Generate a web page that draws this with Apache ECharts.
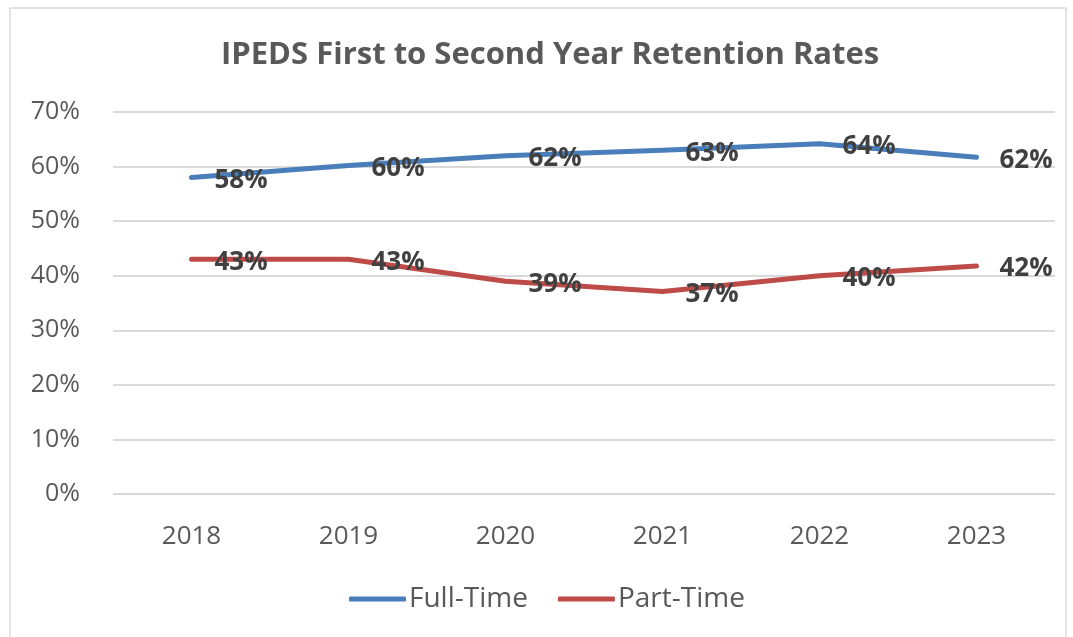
<!DOCTYPE html>
<html>
<head>
<meta charset="utf-8">
<script src="https://cdn.jsdelivr.net/npm/echarts@6/dist/echarts.min.js"></script>
<style>
  html, body { margin: 0; padding: 0; background: #fff; }
  #chart { width: 1073px; height: 637px; }
</style>
</head>
<body>
<div id="chart"></div>
<script>
// values (percent)
const years = ['2018', '2019', '2020', '2021', '2022', '2023'];
const fullTime = [58, 60.2, 62, 63, 64.2, 61.7];
const partTime = [43, 43, 39, 37.1, 40, 41.8];
const seriesNames = ['Full-Time', 'Part-Time'];

const textFont = '"Open Sans", "Noto Sans", sans-serif';
const gray = '#595959';

const labelStyle = {
    show: true,
    position: 'right',
    distance: 23,
    offset: [0, 3],
    fontFamily: textFont,
    fontWeight: 'bold',
    fontSize: 26,
    color: '#404040',
    formatter: p => Math.round(p.value) + '%'
};

let chart = echarts.init(document.getElementById('chart'));
chart.setOption({
    animation: false,
    title: {
        text: 'IPEDS First to Second Year Retention Rates',
        left: 216,
        top: 35,
        textStyle: { fontFamily: textFont, fontWeight: 'bold', fontSize: 31, color: gray }
    },
    graphic: [{
        type: 'rect',
        shape: { x: 10, y: 8, width: 1056, height: 640 },
        style: { fill: 'none', stroke: '#d9d9d9', lineWidth: 1.5 },
        silent: true
    }],
    legend: {
        data: seriesNames,
        bottom: 19,
        left: 344,
        itemWidth: 57,
        itemHeight: 5,
        itemGap: 30,
        icon: 'roundRect',
        textStyle: { fontFamily: textFont, fontSize: 28, color: gray, padding: [0, 0, 0, -2] }
    },
    grid: { left: 113, right: 18, top: 112, bottom: 143 },
    xAxis: {
        type: 'category',
        data: years,
        boundaryGap: true,
        axisLine: { show: false },
        axisTick: { show: false },
        axisLabel: { margin: 30, fontFamily: textFont, fontSize: 26, color: gray }
    },
    yAxis: {
        type: 'value',
        min: 0,
        max: 70,
        interval: 10,
        axisLine: { show: false },
        axisTick: { show: false },
        splitLine: { lineStyle: { color: '#d9d9d9', width: 2 } },
        axisLabel: { margin: 33, formatter: '{value}%', fontFamily: textFont, fontSize: 25, color: gray }
    },
    series: [{
        name: seriesNames[0],
        type: 'line',
        data: fullTime,
        symbol: 'circle',
        symbolSize: 0,
        showSymbol: true,
        lineStyle: { color: '#4a7ebb', width: 5, cap: 'round', join: 'round' },
        itemStyle: { color: '#4a7ebb' },
        label: labelStyle
    }, {
        name: seriesNames[1],
        type: 'line',
        data: partTime,
        symbol: 'circle',
        symbolSize: 0,
        showSymbol: true,
        lineStyle: { color: '#be4b48', width: 5, cap: 'round', join: 'round' },
        itemStyle: { color: '#be4b48' },
        label: labelStyle
    }]
});
</script>
</body>
</html>
